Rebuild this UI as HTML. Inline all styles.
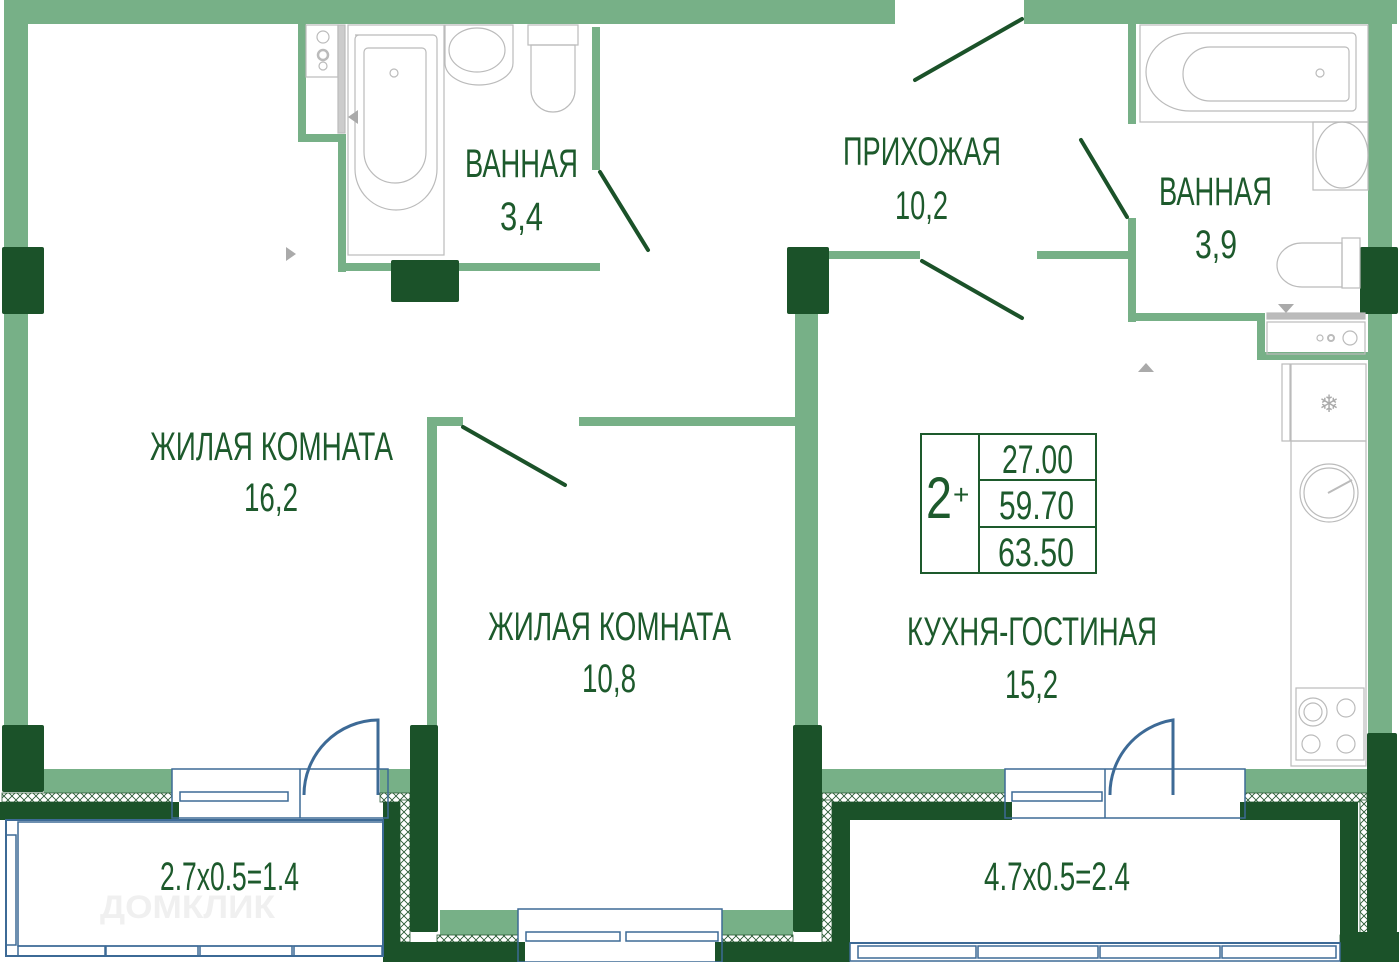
<!DOCTYPE html>
<html><head><meta charset="utf-8"><style>
html,body{margin:0;padding:0;background:#fff;}
svg{display:block}
text{font-family:"Liberation Sans",sans-serif;fill:#1d5a2c}
</style></head><body>
<svg width="1399" height="962" viewBox="0 0 1399 962" xmlns="http://www.w3.org/2000/svg">
<defs>
<pattern id="h" width="8" height="8" patternUnits="userSpaceOnUse">
<rect width="8" height="8" fill="#fff"/>
<path d="M0 0L8 8M8 0L0 8" stroke="#2a5a35" stroke-width="0.9"/>
</pattern>
</defs>
<g fill="#77b087">
<!-- top walls -->
<rect x="4" y="0" width="891" height="24"/>
<rect x="1024" y="0" width="373" height="24"/>
<!-- outer left / right -->
<rect x="4" y="0" width="24" height="780"/>
<rect x="1368" y="0" width="24" height="780"/>
<!-- bath1 -->
<rect x="298" y="22" width="8" height="120"/>
<rect x="298" y="134" width="48" height="8"/>
<rect x="338" y="134" width="8" height="138"/>
<rect x="338" y="263" width="262" height="8"/>
<rect x="592" y="27" width="8" height="143"/>
<!-- hall / bath2 -->
<rect x="1128" y="22" width="8" height="102"/>
<rect x="1128" y="218" width="8" height="104"/>
<rect x="1037" y="251" width="95" height="8"/>
<rect x="829" y="251" width="91" height="8"/>
<rect x="1128" y="313" width="137" height="8"/>
<rect x="1257" y="313" width="8" height="47"/>
<rect x="1257" y="352" width="111" height="8"/>
<!-- inner -->
<rect x="795" y="300" width="23" height="430"/>
<rect x="427" y="417" width="36" height="9"/>
<rect x="427" y="417" width="10" height="310"/>
<rect x="579" y="417" width="216" height="9"/>
<!-- bottom walls -->
<rect x="44" y="769" width="128" height="24"/>
<rect x="380" y="769" width="30" height="24"/>
<rect x="822" y="769" width="183" height="24"/>
<rect x="1245" y="769" width="122" height="24"/>
<rect x="440" y="910" width="78" height="25"/>
<rect x="722" y="910" width="71" height="25"/>
</g>
<!-- hatch strips -->
<g fill="url(#h)" stroke="#2a5a35" stroke-width="0.8">
<rect x="2" y="793" width="170" height="9"/>
<rect x="380" y="793" width="30" height="9"/>
<rect x="400" y="800" width="10" height="142"/>
<rect x="437" y="935" width="81" height="7"/>
<rect x="722" y="935" width="71" height="7"/>
<rect x="822" y="793" width="183" height="9"/>
<rect x="1245" y="793" width="122" height="9"/>
<rect x="822" y="800" width="10" height="142"/>
<rect x="1360" y="800" width="10" height="142"/>
<rect x="1340" y="935" width="28" height="7"/>
</g>
<!-- dark piers -->
<g fill="#1b5229">
<rect x="2" y="247" width="42" height="67" rx="2"/>
<rect x="2" y="725" width="42" height="67" rx="2"/>
<rect x="391" y="260" width="68" height="42" rx="2"/>
<rect x="787" y="247" width="42" height="67" rx="2"/>
<rect x="1360" y="247" width="38" height="67" rx="2"/>
<rect x="0" y="802" width="179" height="18"/>
<rect x="383" y="802" width="17" height="140"/>
<rect x="410" y="725" width="28" height="207" rx="2"/>
<rect x="383" y="942" width="142" height="20"/>
<rect x="793" y="725" width="29" height="207" rx="2"/>
<rect x="715" y="942" width="135" height="20"/>
<rect x="832" y="802" width="180" height="18"/>
<rect x="832" y="802" width="18" height="160"/>
<rect x="1240" y="802" width="110" height="18"/>
<rect x="1340" y="802" width="18" height="140"/>
<rect x="1367" y="733" width="30" height="200" rx="2"/>
<rect x="1340" y="932" width="59" height="30"/>
</g>
<!-- door leaves -->
<g stroke="#1b5229" stroke-width="4" stroke-linecap="round">
<line x1="600" y1="172" x2="648" y2="250"/>
<line x1="915" y1="80" x2="1022" y2="19"/>
<line x1="1081" y1="140" x2="1127" y2="217"/>
<line x1="922" y1="261" x2="1022" y2="318"/>
<line x1="463" y1="427" x2="565" y2="485"/>
</g>
<!-- windows / balcony frames -->
<g fill="none" stroke="#3d6a96" stroke-width="1.5">
<rect x="172" y="769" width="216" height="49"/>
<line x1="300" y1="769" x2="300" y2="818"/>
<rect x="180" y="792" width="108" height="9"/>
<path d="M304 795 A75 75 0 0 1 378 720 L378 795" stroke-width="3"/>
<rect x="6" y="820" width="377" height="136" stroke-width="2"/>
<rect x="18" y="822" width="365" height="124"/>
<rect x="6" y="835" width="10" height="110"/>
<rect x="18" y="946" width="87" height="10"/><rect x="106" y="946" width="92" height="10"/><rect x="200" y="946" width="92" height="10"/><rect x="294" y="946" width="88" height="10"/>
<rect x="518" y="909" width="204" height="53"/>
<rect x="526" y="932" width="94" height="9"/><rect x="626" y="932" width="92" height="9"/>
<rect x="1005" y="769" width="240" height="49"/>
<line x1="1105" y1="769" x2="1105" y2="818"/>
<rect x="1012" y="792" width="90" height="9"/>
<path d="M1110 795 A75 75 0 0 1 1173 720 L1173 795" stroke-width="3"/>
<rect x="850" y="943" width="490" height="18"/>
<line x1="850" y1="943" x2="1340" y2="943" stroke-width="2"/>
<rect x="858" y="946" width="118" height="12"/><rect x="978" y="946" width="120" height="12"/><rect x="1100" y="946" width="120" height="12"/><rect x="1222" y="946" width="114" height="12"/>
</g>
<!-- fixtures -->
<g fill="none" stroke="#bbb" stroke-width="1.2">
<rect x="306" y="25" width="32" height="52"/>
<circle cx="323" cy="37" r="6"/><circle cx="323" cy="55" r="5" stroke-width="2.5"/><circle cx="323" cy="66" r="4"/>
<rect x="338" y="25" width="7" height="108" fill="#ccc"/>
<rect x="348" y="25" width="96" height="230"/>
<path d="M355 35 h78 a4 4 0 0 1 4 4 v130 a40 40 0 0 1 -82 0 v-130 a4 4 0 0 1 4 -4z"/>
<path d="M368 48 h54 a4 4 0 0 1 4 4 v100 a27 27 0 0 1 -62 0 v-100 a4 4 0 0 1 4 -4z"/>
<circle cx="394" cy="73" r="4"/>
<path d="M445 25 h68 v38 a34 22 0 0 1 -68 0z"/>
<ellipse cx="477" cy="50" rx="28" ry="22"/>
<rect x="528" y="25" width="50" height="20"/>
<path d="M531 45 h44 v45 a22 22 0 0 1 -44 0z"/>
<rect x="1140" y="25" width="228" height="97"/>
<path d="M1190 33 h162 a4 4 0 0 1 4 4 v70 a4 4 0 0 1 -4 4 h-162 a44 39 0 0 1 0 -78z"/>
<path d="M1210 47 h135 a4 4 0 0 1 4 4 v46 a4 4 0 0 1 -4 4 h-135 a27 27 0 0 1 0 -54z"/>
<circle cx="1320" cy="73" r="4"/>
<rect x="1313" y="122" width="55" height="68"/>
<ellipse cx="1342" cy="155" rx="26" ry="33"/>
<rect x="1342" y="238" width="18" height="50"/>
<path d="M1342 243 h-40 a25 22 0 0 0 0 44 h40z"/>
<rect x="1267" y="313" width="98" height="6" fill="#bbb"/>
<rect x="1267" y="322" width="98" height="32"/>
<circle cx="1320" cy="338" r="3"/><circle cx="1331" cy="338" r="3" stroke-width="2"/><circle cx="1350" cy="338" r="7"/>
<rect x="1282" y="364" width="8" height="77"/>
<rect x="1291" y="364" width="75" height="77"/>
<rect x="1291" y="441" width="75" height="325"/>
<circle cx="1329" cy="493" r="29"/><circle cx="1329" cy="493" r="25"/>
<line x1="1328" y1="493" x2="1352" y2="480" stroke-width="2"/>
<rect x="1296" y="688" width="68" height="72"/>
<circle cx="1313" cy="712" r="14"/><circle cx="1313" cy="712" r="9"/><circle cx="1346" cy="708" r="9"/><circle cx="1311" cy="744" r="9"/><circle cx="1346" cy="744" r="9"/>
</g>
<text x="1329" y="412" font-size="24" text-anchor="middle" style="fill:#aaa">❄</text>
<g fill="#aaa"><path d="M286 247 l10 7 l-10 7z"/><path d="M1278 304 h16 l-8 9z"/><path d="M1138 372 h16 l-8 -9z"/><path d="M358 110 l-10 7 l10 7z"/></g>
<!-- labels -->
<g font-size="40">
<text x="465" y="177" textLength="113" lengthAdjust="spacingAndGlyphs">ВАННАЯ</text>
<text x="500" y="230" textLength="43" lengthAdjust="spacingAndGlyphs">3,4</text>
<text x="843" y="165" textLength="158" lengthAdjust="spacingAndGlyphs">ПРИХОЖАЯ</text>
<text x="895" y="219" textLength="53" lengthAdjust="spacingAndGlyphs">10,2</text>
<text x="1159" y="205" textLength="113" lengthAdjust="spacingAndGlyphs">ВАННАЯ</text>
<text x="1195" y="258" textLength="42" lengthAdjust="spacingAndGlyphs">3,9</text>
<text x="150" y="460" textLength="243" lengthAdjust="spacingAndGlyphs">ЖИЛАЯ КОМНАТА</text>
<text x="244" y="511" textLength="54" lengthAdjust="spacingAndGlyphs">16,2</text>
<text x="488" y="640" textLength="243" lengthAdjust="spacingAndGlyphs">ЖИЛАЯ КОМНАТА</text>
<text x="582" y="692" textLength="54" lengthAdjust="spacingAndGlyphs">10,8</text>
<text x="907" y="645" textLength="250" lengthAdjust="spacingAndGlyphs">КУХНЯ-ГОСТИНАЯ</text>
<text x="1005" y="698" textLength="53" lengthAdjust="spacingAndGlyphs">15,2</text>
<text x="160" y="890" textLength="139" lengthAdjust="spacingAndGlyphs">2.7x0.5=1.4</text>
<text x="984" y="890" textLength="146" lengthAdjust="spacingAndGlyphs">4.7x0.5=2.4</text>
</g>
<text x="100" y="918" font-size="32" font-weight="bold" style="fill:#f0f0f0" textLength="175" lengthAdjust="spacingAndGlyphs">ДОМКЛИК</text>
<!-- info box -->
<g fill="none" stroke="#1d5a2c" stroke-width="2">
<rect x="921" y="434" width="175" height="139"/>
<line x1="979" y1="434" x2="979" y2="573"/>
<line x1="979" y1="480" x2="1096" y2="480"/>
<line x1="979" y1="527" x2="1096" y2="527"/>
</g>
<text x="926" y="518" font-size="58" textLength="26" lengthAdjust="spacingAndGlyphs">2</text>
<text x="953" y="504" font-size="28">+</text>
<g font-size="40">
<text x="1002" y="473" textLength="71" lengthAdjust="spacingAndGlyphs">27.00</text>
<text x="999" y="519" textLength="75" lengthAdjust="spacingAndGlyphs">59.70</text>
<text x="998" y="566" textLength="76" lengthAdjust="spacingAndGlyphs">63.50</text>
</g>
</svg>
</body></html>
